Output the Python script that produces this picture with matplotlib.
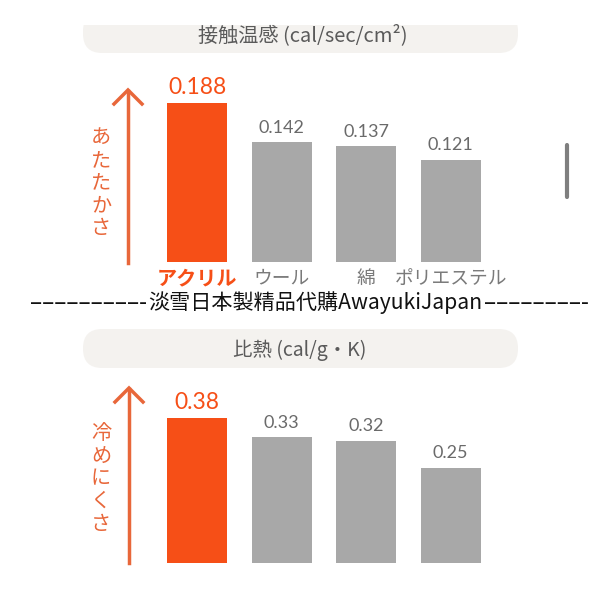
import matplotlib
matplotlib.use("Agg")
import matplotlib.pyplot as plt
from matplotlib.patches import FancyBboxPatch, Rectangle

plt.rcParams['font.family'] = ['Noto Sans CJK JP', 'DejaVu Sans']

# data
fabrics = ['アクリル', 'ウール', '綿', 'ポリエステル']
contact_warmth = [0.188, 0.142, 0.137, 0.121]
specific_heat = [0.38, 0.33, 0.32, 0.25]
contact_labels = ['0.188', '0.142', '0.137', '0.121']
heat_labels = ['0.38', '0.33', '0.32', '0.25']

ORANGE = '#F64F17'
ARROW = '#E8673A'
GREY_BAR = '#A8A8A8'
GREY_TXT = '#6A6A6A'
PILL = '#F4F2EF'

W = H = 600.0


def fx(x):
    return x / W


def fy(y):
    return 1 - y / H


fig = plt.figure(figsize=(6, 6), dpi=100)
fig.patch.set_facecolor('white')


def pill(y0, y1):
    p = FancyBboxPatch((fx(83), fy(y1)), fx(518) - fx(83), fy(y0) - fy(y1),
                       boxstyle='round,pad=0,rounding_size=0.032',
                       transform=fig.transFigure, facecolor=PILL,
                       edgecolor='none', zorder=0)
    fig.patches.append(p)


pill(12, 53)
fig.patches.append(Rectangle((0, fy(25)), 1, 1 - fy(25), transform=fig.transFigure,
                             facecolor='white', edgecolor='none', zorder=0.5))
pill(329, 368)

fig.text(fx(303), fy(35), '接触温感 (cal/sec/cm²)', ha='center', va='center',
         fontsize=14.5, color='#5A5A5A')
fig.text(fx(300), fy(350), '比熱 (cal/g・K)', ha='center', va='center',
         fontsize=14, color='#5A5A5A')


def bar_panel(top_px, bottom_px, values, labels, first_val, first_px):
    h_px = bottom_px - top_px
    ax = fig.add_axes([fx(155), fy(bottom_px), fx(493) - fx(155), h_px / H])
    ymax = first_val * h_px / first_px
    colors = [ORANGE] + [GREY_BAR] * (len(values) - 1)
    xs = list(range(len(values)))
    ax.bar(xs, values, width=0.71, color=colors)
    ax.set_xlim(-0.5, len(values) - 0.5)
    ax.set_ylim(0, ymax)
    for i, (v, lab) in enumerate(zip(values, labels)):
        if i == 0:
            ax.text(i, v + ymax * 0.03, lab, ha='center', va='bottom',
                    fontsize=16.5, color=ORANGE, family=['Lato', 'DejaVu Sans'])
        else:
            ax.text(i, v + ymax * 0.035, lab, ha='center', va='bottom',
                    fontsize=13, color=GREY_TXT, family=['Lato', 'DejaVu Sans'])
    ax.set_yticks([])
    ax.set_xticks([])
    for s in ax.spines.values():
        s.set_visible(False)
    ax.patch.set_alpha(0)
    return ax


ax1 = bar_panel(83, 262, contact_warmth, contact_labels, 0.188, 159)
ax2 = bar_panel(380, 563, specific_heat, heat_labels, 0.38, 145)

# category labels under the top chart
ax1.set_xticks(range(len(fabrics)))
ax1.set_xticklabels(fabrics, fontsize=13.5)
ax1.tick_params(axis='x', length=0, pad=4)
for i, t in enumerate(ax1.get_xticklabels()):
    if i == 0:
        t.set_color(ORANGE)
        t.set_fontweight('bold')
        t.set_fontsize(14.5)
    else:
        t.set_color('#7A7A7A')

# arrows and vertical captions


def arrow(x, y_bottom, y_top):
    fig.add_artist(plt.Line2D([fx(x), fx(x)], [fy(y_bottom), fy(y_top + 1)],
                              color=ARROW, lw=2.5, transform=fig.transFigure))
    fig.add_artist(plt.Line2D([fx(x - 14), fx(x), fx(x + 14)],
                              [fy(y_top + 14), fy(y_top), fy(y_top + 14)],
                              color=ARROW, lw=2.5, transform=fig.transFigure,
                              solid_joinstyle='miter'))


arrow(128, 263, 90)
arrow(129, 563, 388)

fig.text(fx(101), fy(183), '\n'.join('あたたかさ'), ha='center', va='center',
         fontsize=14.5, color=ARROW, linespacing=1.1)
fig.text(fx(101), fy(479), '\n'.join('冷めにくさ'), ha='center', va='center',
         fontsize=14.5, color=ARROW, linespacing=1.1)

# scrollbar
fig.add_artist(plt.Line2D([fx(567), fx(567)], [fy(145), fy(197)], color='#7F7F7F',
                          lw=3, transform=fig.transFigure, solid_capstyle='round'))

# watermark
fig.text(fx(147), fy(303), '–––––––––-', ha='right', va='center',
         fontsize=16.5, color='#111111')
fig.text(fx(315), fy(303), '淡雪日本製精品代購AwayukiJapan',
         ha='center', va='center', fontsize=15.2, color='#111111')
fig.text(fx(484), fy(303), '––––––––-', ha='left', va='center',
         fontsize=16.5, color='#111111')

fig.savefig('out.png', dpi=100)
